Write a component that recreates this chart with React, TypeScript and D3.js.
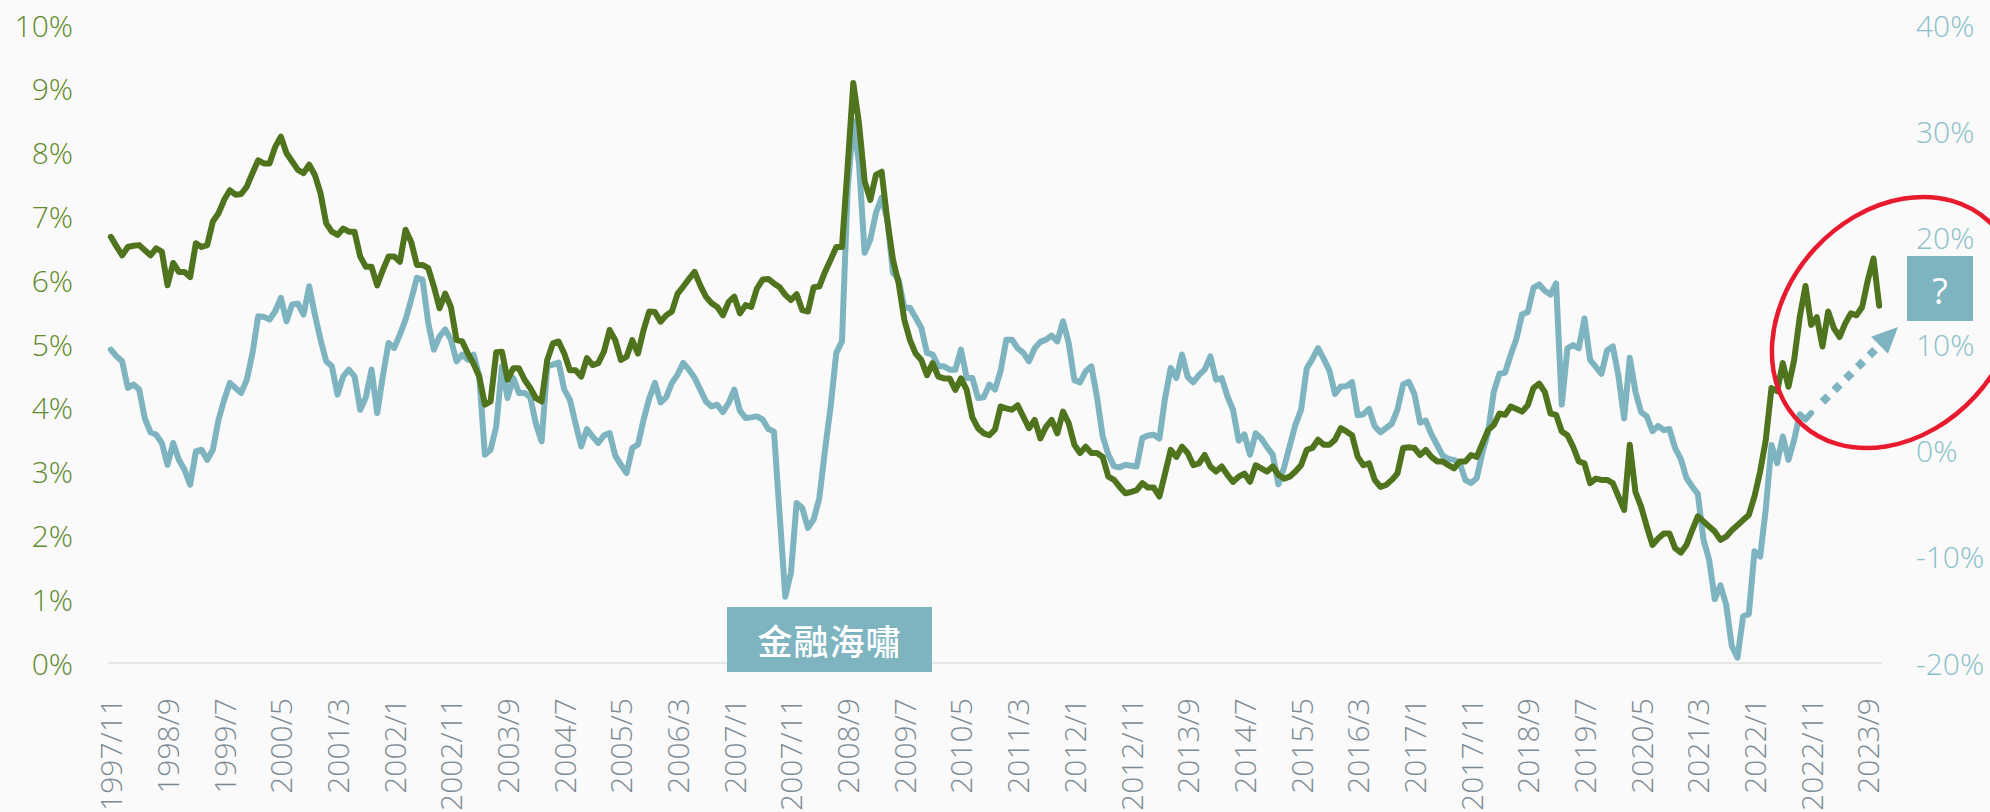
import React from "react";
import * as d3 from "d3";

// ---------- data ----------
const START_YEAR = 1997;
const START_MONTH = 11;
const MONTH_COUNT = 313;
const months: string[] = Array.from({ length: MONTH_COUNT }, (_, i) => {
  const t = START_MONTH - 1 + i;
  return `${START_YEAR + Math.floor(t / 12)}/${(t % 12) + 1}`;
});

const tickLabels = [
  "1997/11", "1998/9", "1999/7", "2000/5", "2001/3", "2002/1", "2002/11", "2003/9",
  "2004/7", "2005/5", "2006/3", "2007/1", "2007/11", "2008/9", "2009/7", "2010/5",
  "2011/3", "2012/1", "2012/11", "2013/9", "2014/7", "2015/5", "2016/3", "2017/1",
  "2017/11", "2018/9", "2019/7", "2020/5", "2021/3", "2022/1", "2022/11", "2023/9",
];

const leftTicks = [0, 1, 2, 3, 4, 5, 6, 7, 8, 9, 10];
const rightTicks = [-20, -10, 0, 10, 20, 30, 40];

// green series (left axis, %)
const greenSeries = [
  6.68, 6.53, 6.39, 6.52, 6.54, 6.55, 6.47, 6.39, 6.50, 6.45,
  5.92, 6.27, 6.13, 6.13, 6.05, 6.58, 6.52, 6.55, 6.92, 7.05,
  7.26, 7.41, 7.34, 7.35, 7.47, 7.68, 7.88, 7.83, 7.83, 8.09,
  8.25, 7.99, 7.86, 7.73, 7.68, 7.81, 7.65, 7.36, 6.89, 6.76,
  6.71, 6.81, 6.76, 6.76, 6.37, 6.21, 6.21, 5.92, 6.16, 6.37,
  6.37, 6.29, 6.79, 6.60, 6.24, 6.24, 6.19, 5.90, 5.56, 5.79,
  5.58, 5.06, 5.04, 4.85, 4.69, 4.49, 4.05, 4.10, 4.87, 4.88,
  4.44, 4.62, 4.62, 4.44, 4.31, 4.15, 4.10, 4.75, 5.01, 5.04,
  4.85, 4.59, 4.59, 4.49, 4.78, 4.67, 4.70, 4.88, 5.22, 5.06,
  4.75, 4.80, 5.06, 4.85, 5.22, 5.51, 5.50, 5.35, 5.45, 5.51,
  5.79, 5.90, 6.02, 6.13, 5.92, 5.74, 5.64, 5.58, 5.45, 5.66,
  5.74, 5.48, 5.61, 5.58, 5.87, 6.01, 6.02, 5.95, 5.89, 5.77,
  5.69, 5.78, 5.53, 5.51, 5.89, 5.90, 6.13, 6.32, 6.52, 6.52,
  7.78, 9.09, 8.46, 7.55, 7.26, 7.65, 7.70, 6.94, 6.32, 5.95,
  5.38, 5.06, 4.85, 4.75, 4.51, 4.70, 4.49, 4.46, 4.46, 4.28,
  4.46, 4.28, 3.85, 3.68, 3.60, 3.57, 3.66, 4.02, 3.99, 3.97,
  4.04, 3.86, 3.68, 3.81, 3.52, 3.70, 3.81, 3.60, 3.94, 3.76,
  3.42, 3.29, 3.39, 3.29, 3.29, 3.23, 2.92, 2.87, 2.76, 2.66,
  2.68, 2.71, 2.82, 2.75, 2.75, 2.61, 2.97, 3.34, 3.23, 3.39,
  3.29, 3.10, 3.13, 3.26, 3.08, 3.00, 3.08, 2.95, 2.84, 2.92,
  2.97, 2.84, 3.10, 3.05, 3.00, 3.08, 2.95, 2.89, 2.92, 3.00,
  3.10, 3.34, 3.37, 3.50, 3.42, 3.42, 3.50, 3.68, 3.63, 3.57,
  3.23, 3.10, 3.13, 2.87, 2.76, 2.79, 2.87, 2.97, 3.37, 3.38,
  3.37, 3.26, 3.34, 3.23, 3.16, 3.16, 3.10, 3.05, 3.16, 3.16,
  3.26, 3.23, 3.44, 3.65, 3.73, 3.91, 3.89, 4.02, 3.98, 3.94,
  4.04, 4.31, 4.38, 4.25, 3.91, 3.89, 3.63, 3.57, 3.39, 3.16,
  3.13, 2.82, 2.89, 2.87, 2.87, 2.82, 2.61, 2.40, 3.42, 2.68,
  2.45, 2.14, 1.85, 1.95, 2.03, 2.03, 1.80, 1.73, 1.85, 2.08,
  2.30, 2.22, 2.14, 2.06, 1.93, 1.98, 2.08, 2.16, 2.24, 2.32,
  2.61, 3.00, 3.50, 4.31, 4.26, 4.70, 4.33, 4.75, 5.43, 5.91,
  5.30, 5.42, 4.96, 5.51, 5.25, 5.11, 5.32, 5.48, 5.45, 5.58,
  6.00, 6.34, 5.60,
];

// blue series (right axis, %)
const blueSeries = [
  9.47, 8.84, 8.37, 5.87, 6.18, 5.71, 3.0, 1.7, 1.47, 0.69,
  -1.36, 0.69, -0.89, -1.83, -3.24, -0.10, 0.06, -0.89, 0.06, 2.88,
  4.76, 6.34, 5.87, 5.40, 6.65, 9.16, 12.61, 12.55, 12.30, 13.08,
  14.34, 12.14, 13.71, 13.80, 12.77, 15.43, 12.77, 10.41, 8.37, 7.90,
  5.24, 6.96, 7.59, 6.96, 3.82, 5.0, 7.59, 3.51, 7.0, 10.10,
  9.63, 10.88, 12.30, 14.18, 16.22, 16.06, 11.99, 9.47, 10.72, 11.36,
  10.41, 8.37, 9.00, 8.53, 9.00, 6.96, -0.41, 0.06, 2.25, 7.90,
  4.92, 6.81, 5.40, 5.40, 5.0, 2.5, 0.84, 7.9, 8.06, 8.25,
  5.71, 4.76, 2.5, 0.37, 2.00, 1.3, 0.69, 1.4, 1.63, -0.5,
  -1.36, -2.14, 0.22, 0.53, 2.88, 4.9, 6.34, 4.5, 5.0, 6.34,
  7.12, 8.22, 7.59, 6.81, 5.71, 4.6, 4.13, 4.29, 3.6, 4.45,
  5.71, 3.7, 3.04, 3.1, 3.19, 2.9, 2.0, 1.78, -6.0, -13.76,
  -11.5, -4.96, -5.43, -7.3, -6.5, -4.5, 0.0, 4.13, 9.16, 10.25,
  24.5, 30.97, 27.0, 18.58, 19.83, 22.34, 23.76, 21.71, 16.69, 16.06,
  13.40, 13.40, 12.46, 11.52, 9.16, 9.00, 7.90, 7.90, 7.59, 7.59,
  9.47, 6.81, 6.81, 4.92, 5.0, 6.18, 5.71, 7.5, 10.41, 10.41,
  9.6, 9.16, 8.37, 9.6, 10.2, 10.41, 10.8, 10.25, 12.14, 10.10,
  6.6, 6.39, 7.43, 7.90, 5.0, 1.31, -0.4, -1.5, -1.6, -1.36,
  -1.45, -1.52, 1.16, 1.4, 1.47, 1.1, 4.9, 7.75, 6.81, 9.0,
  6.9, 6.4, 7.1, 7.59, 8.84, 6.65, 6.8, 5.1, 3.8, 0.9,
  1.5, -0.4, 1.6, 1.1, 0.3, -0.4, -3.2, -1.6, 0.4, 2.4,
  3.8, 7.7, 8.6, 9.6, 8.6, 7.5, 5.3, 6.0, 6.02, 6.4,
  3.3, 3.4, 3.9, 2.25, 1.7, 2.1, 2.5, 3.8, 6.2, 6.45,
  5.3, 2.6, 2.8, 1.5, 0.5, -0.5, -0.8, -0.9, -1.2, -2.8,
  -3.08, -2.6, -0.2, 1.7, 5.5, 7.2, 7.3, 9.0, 10.5, 12.8,
  13.0, 15.28, 15.6, 15.0, 14.65, 15.7, 4.3, 9.6, 9.9, 9.6,
  12.4, 8.5, 7.85, 7.2, 9.4, 9.78, 7.0, 3.0, 8.7, 5.5,
  3.6, 3.2, 1.8, 2.3, 1.9, 2.0, 0.2, -0.8, -2.6, -3.4,
  -4.1, -8.4, -10.3, -14.0, -12.7, -14.5, -18.4, -19.5, -15.6, -15.4,
  -9.5, -10.0, -5.5, 0.5, -1.2, 1.3, -0.9, 1.0, 3.4, 2.9,
  3.5,
];

// ---------- styles ----------
const W = 1990;
const H = 812;
const BG = "#fafafa";
const GREEN = "#50731e";
const GREEN_TEXT = "#5f8a2c";
const BLUE = "#7eb4c0";
const BLUE_TEXT = "#8cbfca";
const GRAY_TEXT = "#7c8a94";
const RED = "#e81a2e";
const FONT = "'Open Sans', 'Noto Sans', sans-serif";

export default function App() {
  const x = d3.scaleBand<string>().domain(months).range([108, 1882]).padding(0);
  const cx = (m: string) => (x(m) as number) + x.bandwidth() / 2;
  const yL = d3.scaleLinear().domain([0, 10]).range([663, 25]);
  const yR = d3.scaleLinear().domain([-20, 40]).range([663, 25]);

  const greenPath = d3
    .line<number>()
    .x((_, i) => cx(months[i]))
    .y((d) => yL(d))(greenSeries) as string;
  const bluePath = d3
    .line<number>()
    .x((_, i) => cx(months[i]))
    .y((d) => yR(d))(blueSeries) as string;

  // arrow from last blue point
  const lastBi = blueSeries.length - 1;
  const ax0 = cx(months[lastBi]);
  const ay0 = yR(blueSeries[lastBi]);
  const tipX = 1898;
  const tipY = 327;
  const dx = tipX - ax0;
  const dy = tipY - ay0;
  const len = Math.hypot(dx, dy);
  const ux = dx / len;
  const uy = dy / len;
  const startOff = 16;
  const headLen = 26;
  const headHalf = 12;
  const lx0 = ax0 + ux * startOff;
  const ly0 = ay0 + uy * startOff;
  const lx1 = tipX - ux * headLen;
  const ly1 = tipY - uy * headLen;
  const px = -uy;
  const py = ux;
  const head = [
    [tipX, tipY],
    [lx1 + px * headHalf, ly1 + py * headHalf],
    [lx1 - px * headHalf, ly1 - py * headHalf],
  ]
    .map((p) => p.join(","))
    .join(" ");

  return (
    <div style={{ position: "absolute", left: 0, top: 0, width: W, height: H, background: BG }}>
      <svg width={W} height={H} style={{ display: "block" }}>
        <rect x={0} y={0} width={W} height={H} fill={BG} />
        {/* baseline */}
        <line x1={108} x2={1882} y1={yL(0)} y2={yL(0)} stroke="#e6e6e6" strokeWidth={2} />

        {/* left axis */}
        {leftTicks.map((t) => (
          <text
            key={"l" + t}
            x={73}
            y={yL(t)}
            textAnchor="end"
            dominantBaseline="central"
            fontFamily={FONT}
            fontWeight={300}
            fontSize={30}
            fill={GREEN_TEXT}
          >
            {t}%
          </text>
        ))}

        {/* right axis */}
        {rightTicks.map((t) => (
          <text
            key={"r" + t}
            x={1916}
            y={yR(t)}
            textAnchor="start"
            dominantBaseline="central"
            fontFamily={FONT}
            fontWeight={300}
            fontSize={30}
            fill={BLUE_TEXT}
          >
            {t}%
          </text>
        ))}

        {/* x axis labels */}
        {tickLabels.map((m) => (
          <text
            key={"x" + m}
            transform={`translate(${cx(m)},698) rotate(-90)`}
            textAnchor="end"
            dominantBaseline="central"
            fontFamily={FONT}
            fontWeight={300}
            fontSize={30}
            fill={GRAY_TEXT}
          >
            {m}
          </text>
        ))}

        {/* lines */}
        <path d={bluePath} fill="none" stroke={BLUE} strokeWidth={6} strokeLinejoin="round" strokeLinecap="round" />
        <path d={greenPath} fill="none" stroke={GREEN} strokeWidth={6} strokeLinejoin="round" strokeLinecap="round" />

        {/* 金融海嘯 label */}
        <rect x={727} y={607} width={205} height={65} fill={BLUE} />
        <text
          x={829.5}
          y={639}
          textAnchor="middle"
          dominantBaseline="central"
          fontFamily="'Noto Sans CJK TC', 'Noto Sans CJK SC', sans-serif"
          fontWeight={500}
          fontSize={35}
          letterSpacing={1}
          fill="#ffffff"
        >
          金融海嘯
        </text>

        {/* dotted arrow */}
        <line
          x1={lx0}
          y1={ly0}
          x2={lx1}
          y2={ly1}
          stroke={BLUE}
          strokeWidth={8}
          strokeDasharray="8 8.5"
        />
        <polygon points={head} fill={BLUE} />

        {/* ? box */}
        <rect x={1907} y={256} width={66} height={65} fill={BLUE} />
        <text
          x={1940}
          y={290}
          textAnchor="middle"
          dominantBaseline="central"
          fontFamily={FONT}
          fontSize={36}
          fill="#ffffff"
        >
          ?
        </text>

        {/* red ellipse */}
        <ellipse
          cx={0}
          cy={0}
          rx={138}
          ry={109}
          transform="translate(1895,322.5) rotate(-47.5)"
          fill="none"
          stroke={RED}
          strokeWidth={4.5}
        />
      </svg>
    </div>
  );
}
